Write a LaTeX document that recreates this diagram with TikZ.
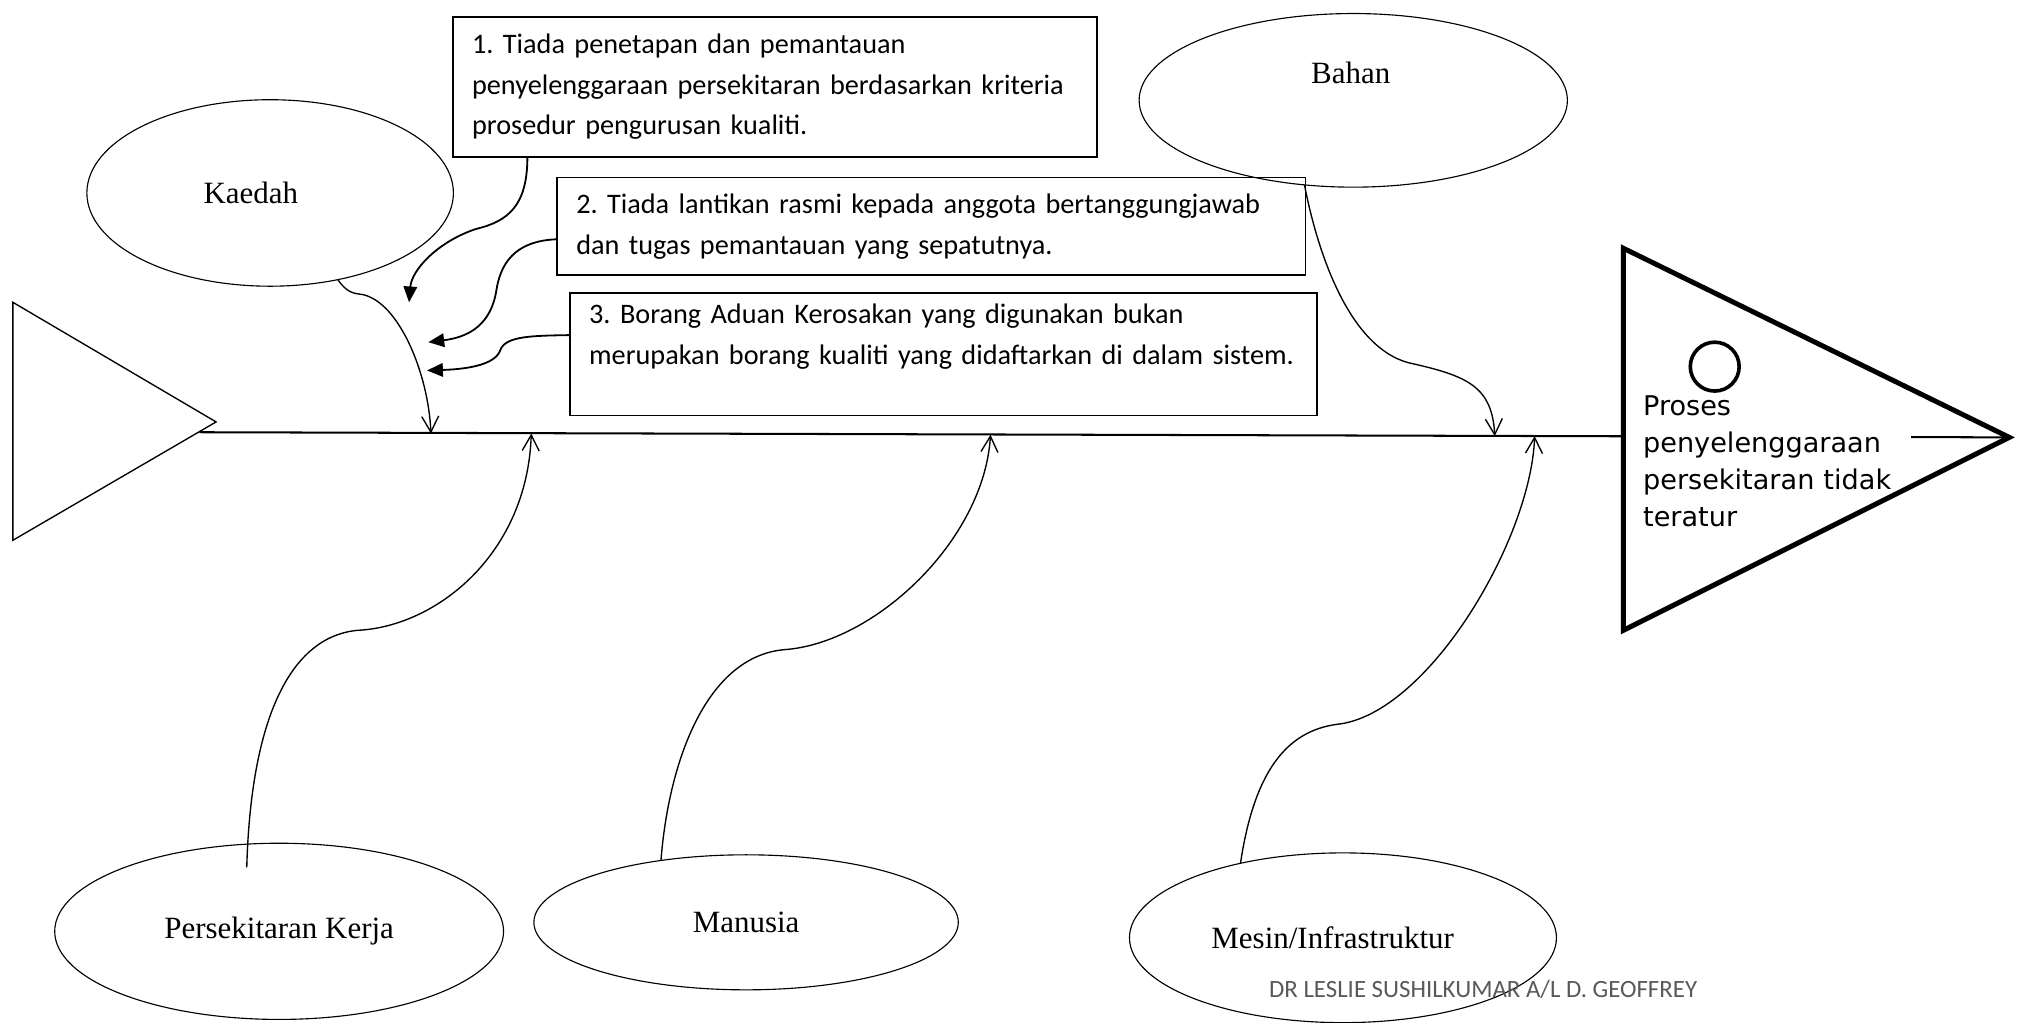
\documentclass[tikz,border=0pt]{standalone}
\usepackage{fontspec}
\usepackage{tikz}
\usetikzlibrary{shapes,arrows.meta,positioning,calc}
\newfontfamily\boxfamily{Carlito}
\newfontfamily\labelfamily{Liberation Serif}
\newfontfamily\effectfamily{DejaVu Sans}
\newcommand{\boxfont}{\boxfamily\fontsize{12.5}{18}\selectfont\frenchspacing}
\newcommand{\causefont}{\labelfamily\fontsize{13.7}{16}\selectfont}
\newcommand{\effectfont}{\effectfamily\fontsize{12}{16.4}\selectfont}
\newcommand{\stampfont}{\boxfamily\fontsize{11}{13}\selectfont}

\begin{document}
\begin{tikzpicture}[
    x=0.02cm, y=-0.02cm,
    cause/.style={ellipse, draw, line width=0.5pt, font=\causefont,
        inner sep=0pt, outer sep=0pt},
    causebox/.style={rectangle, draw, line width=0.8pt, font=\boxfont,
        align=left, inner xsep=0.3cm, inner ysep=0pt, outer sep=0pt,
        anchor=north west},
    effect/.style={fill=white, font=\effectfont, align=left,
        inner xsep=0.26cm, inner ysep=0.1cm, anchor=north west},
    branch/.style={line width=0.6pt, -{Straight Barb[length=7pt,width=7.5pt]}},
    note/.style={line width=0.8pt, -{Triangle[length=7pt,width=6pt]}},
]
\useasboundingbox (0,0) rectangle (1568,795);

% backbone
\coordinate (tail) at (155,336);
\coordinate (apex) at (1562,340);
\draw[line width=0.6pt] (10,235) -- (168,328) -- (10,420) -- cycle;
\draw[line width=0.9pt] (tail) -- (apex);

% effect
\node[effect, text width=3.9cm] (effect) at (1264,302)
    {Proses\\penyelenggaraan\\persekitaran tidak\\teratur};
\draw[line width=2.2pt, line join=miter] (1262,193) -- (apex) -- (1262,490) -- cycle;
\node[circle, draw, line width=1.6pt, minimum size=0.76cm, inner sep=0pt] (mark) at (1333,285) {};

% causes
\node[cause, minimum width=5.7cm, minimum height=2.9cm] (kaedah) at (210,150) {Kaedah\hspace*{0.6cm}};
\node[cause, minimum width=6.66cm, minimum height=2.7cm] (bahan) at (1052,78) {};
\node[font=\causefont] (bahanlabel) at (1050,57) {Bahan};
\node[cause, minimum width=6.98cm, minimum height=2.74cm] (persekitaran) at (217,724) {Persekitaran Kerja};
\node[cause, minimum width=6.6cm, minimum height=2.1cm] (manusia) at (580,717) {Manusia};
\node[cause, minimum width=6.64cm, minimum height=2.64cm] (mesin) at (1044,729) {Mesin/Infrastruktur\hspace*{0.32cm}};

% sub-causes of Kaedah
\node[causebox, text width=9.42cm, minimum height=2.18cm] (box1) at (352,13)
    {1. Tiada penetapan dan pemantauan\\
     penyelenggaraan persekitaran berdasarkan kriteria\\
     prosedur pengurusan kualiti.};
\node[causebox, text width=11.04cm, minimum height=1.52cm] (box2) at (433,138)
    {2. Tiada lantikan rasmi kepada anggota bertanggungjawab\\
     dan tugas pemantauan yang sepatutnya.};
\node[causebox, text width=11.02cm, minimum height=1.9cm] (box3) at (443,228)
    {3. Borang Aduan Kerosakan yang digunakan bukan\\
     merupakan borang kualiti yang didaftarkan di dalam sistem.\\
     \mbox{}};

% arrow ends
\coordinate (kaedahtip) at (335,337);
\coordinate (persektip) at (413,337);
\coordinate (manusiatip) at (770,338);
\coordinate (bahantip) at (1162,339);
\coordinate (mesintip) at (1193,339);
\coordinate (note1tip) at (318,235);
\coordinate (note2tip) at (333,266);
\coordinate (note3tip) at (332,288);

% branches
\draw[branch] (kaedah.-52) .. controls (270,228) and (275,228) .. (282,229)
    .. controls (310,235) and (333,290) .. (kaedahtip);
\draw[branch] (bahan.240) .. controls (1025,200) and (1050,270) .. (1095,282)
    .. controls (1140,292) and (1160,300) .. (bahantip);
\draw[branch, shorten <=-0.36cm] (persekitaran.110) .. controls (195,560) and (225,495) .. (278,490)
    .. controls (340,487) and (410,430) .. (persektip);
\draw[branch] (manusia.144) .. controls (520,590) and (550,510) .. (610,505)
    .. controls (680,500) and (765,420) .. (manusiatip);
\draw[branch] (mesin.144) .. controls (975,600) and (1000,568) .. (1040,563)
    .. controls (1110,555) and (1190,420) .. (mesintip);

% notes
\draw[note] ([xshift=1.16cm]box1.south west) .. controls (410,160) and (395,172) .. (370,178)
    .. controls (340,188) and (320,210) .. (note1tip);
\draw[note] ([yshift=-0.2cm]box2.west) .. controls (405,187) and (390,200) .. (386,225)
    .. controls (382,252) and (365,262) .. (note2tip);
\draw[note] ([yshift=0.3cm]box3.west) .. controls (415,261) and (393,261) .. (389,272)
    .. controls (385,284) and (362,287) .. (note3tip);

\node[font=\stampfont, text=black!65] (stamp) at (1153,769) {DR LESLIE SUSHILKUMAR A/L D. GEOFFREY};
\end{tikzpicture}
\end{document}
